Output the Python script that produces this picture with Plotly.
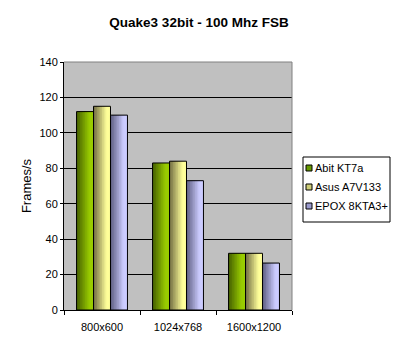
import plotly.graph_objects as go

categories = ["800x600", "1024x768", "1600x1200"]
abit = [112, 83, 32]
asus = [115, 84, 32]
epox = [110, 73, 26.5]
series_names = ["Abit KT7a", "Asus A7V133", "EPOX 8KTA3+"]
dark_colors = [(74, 102, 0), (120, 116, 70), (100, 100, 136)]
light_colors = [(153, 204, 0), (255, 255, 153), (204, 204, 255)]
swatch_colors = ["#669900", "#cccc77", "#9999cc"]

W, H = 398, 351
L, R, T, B = 64, 106, 62, 41
group_w = 0.67
bar_w = group_w / 3
N = 10


def mix(c1, c2, t):
    return "rgb(%d,%d,%d)" % tuple(round(a + (b - a) * t) for a, b in zip(c1, c2))


fig = go.Figure()
for s, vals in enumerate([abit, asus, epox]):
    start = -group_w / 2 + s * bar_w
    for k in range(N):
        t = min(1.0, k / (N - 1) / 0.8)
        fig.add_trace(go.Bar(
            x=categories, y=vals, width=bar_w - k * bar_w / N,
            offset=start + k * bar_w / N, showlegend=False, hoverinfo="skip",
            marker=dict(color=mix(dark_colors[s], light_colors[s], t), line=dict(width=0))))
    fig.add_trace(go.Bar(
        x=categories, y=vals, width=bar_w, offset=start, name=series_names[s],
        showlegend=False,
        marker=dict(color="rgba(0,0,0,0)", line=dict(color="black", width=1))))

fig.update_layout(
    width=W, height=H,
    margin=dict(l=L, r=R, t=T, b=B, autoexpand=False),
    paper_bgcolor="white", plot_bgcolor="#c0c0c0",
    barmode="overlay",
    font=dict(family="Arial, Liberation Sans", size=11, color="black"),
    title=dict(text="<b>Quake3 32bit - 100 Mhz FSB</b>", x=0.5, xanchor="center",
               y=1 - 22 / H, yanchor="middle", font=dict(size=13.5)),
    showlegend=False,
)
fig.update_yaxes(range=[0, 140], dtick=20, showgrid=True, gridcolor="black", gridwidth=1,
                 ticks="outside", ticklen=3, tickcolor="black",
                 showline=True, linecolor="black",
                 title=dict(text="Frames/s", standoff=4), zeroline=False)
fig.update_xaxes(ticks="outside", tickson="boundaries", ticklen=4, tickcolor="black",
                 showline=True, linecolor="black", range=[-0.5, 2.5],
                 ticklabelstandoff=7)
fig.add_shape(type="line", xref="paper", yref="paper", x0=0, y0=1, x1=1, y1=1,
              line=dict(color="#808080", width=1))
fig.add_shape(type="line", xref="paper", yref="paper", x0=1, y0=0, x1=1, y1=1,
              line=dict(color="#808080", width=1))

# legend box
pw, ph = W - L - R, H - T - B
px = lambda v: (v - L) / pw
py = lambda v: (H - B - v) / ph
fig.add_shape(type="rect", xref="paper", yref="paper",
              x0=px(303), x1=px(390), y0=py(222), y1=py(157),
              line=dict(color="black", width=1), fillcolor="white")
for i, (name, sc) in enumerate(zip(series_names, swatch_colors)):
    yc = 168 + i * 19
    fig.add_shape(type="rect", xref="paper", yref="paper",
                  x0=px(306), x1=px(312), y0=py(yc + 3), y1=py(yc - 3),
                  line=dict(color="black", width=1), fillcolor=sc)
    fig.add_annotation(text=name, xref="paper", yref="paper", x=px(313), y=py(yc),
                       xanchor="left", yanchor="middle", showarrow=False,
                       font=dict(size=11))
fig.write_html("out.html")
